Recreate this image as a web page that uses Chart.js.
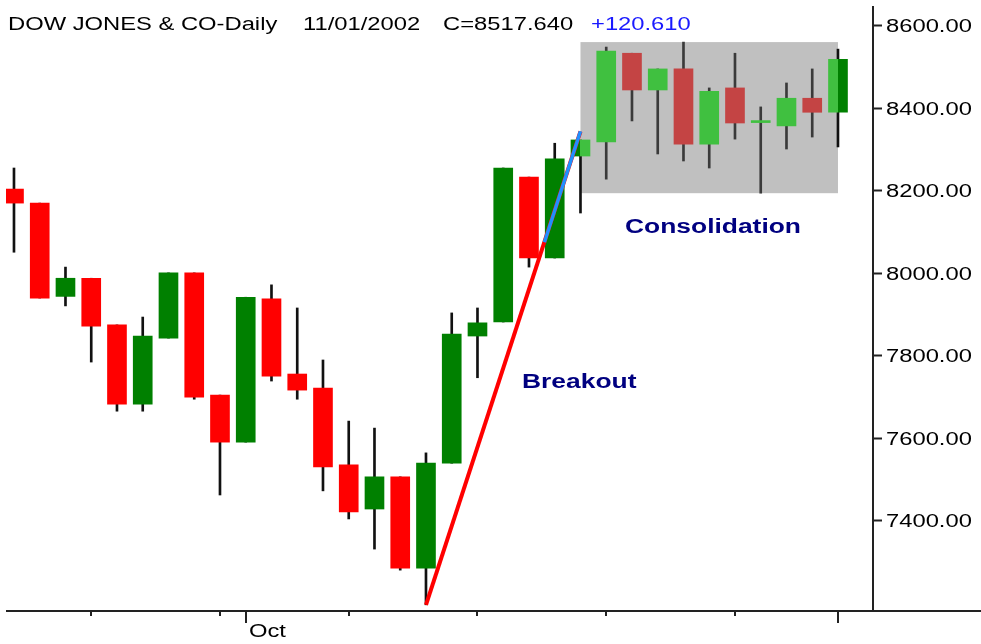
<!DOCTYPE html>
<html>
<head>
<meta charset="utf-8">
<script src="https://cdn.jsdelivr.net/npm/chart.js@4.4.1/dist/chart.umd.min.js"></script>
<style>
  html, body { margin: 0; padding: 0; background: #fff; }
  canvas { display: block; }
</style>
</head>
<body>
<canvas id="myChart" width="981" height="644"></canvas>
<script>
// Dow Jones daily bars, 18 Sep 2002 .. 1 Nov 2002
const dates = ['09/18','09/19','09/20','09/23','09/24','09/25','09/26','09/27','09/30',
  '10/01','10/02','10/03','10/04','10/07','10/08','10/09','10/10','10/11','10/14','10/15',
  '10/16','10/17','10/18','10/21','10/22','10/23','10/24','10/25','10/28','10/29','10/30',
  '10/31','11/01']
const opens  = [8204, 8170, 7944, 7988, 7875, 7683, 7843, 8001, 7705, 7591, 7938, 7756, 7722,
  7536, 7429, 7507, 7286, 7540, 7848, 7882, 8233, 8037, 8284, 8318, 8533, 8444, 8495, 8313,
  8449, 8365, 8357, 8424, 8390]
const highs  = [8255, 8170, 8015, 7988, 7875, 7894, 8001, 8001, 7705, 7942, 7972, 7916, 7790,
  7642, 7625, 7507, 7565, 7904, 7916, 8255, 8233, 8315, 8323, 8548, 8533, 8495, 8560, 8449,
  8533, 8403, 8461, 8495, 8543]
const lows   = [8051, 7940, 7921, 7785, 7666, 7666, 7843, 7695, 7463, 7591, 7739, 7695, 7473,
  7405, 7332, 7281, 7197, 7540, 7747, 7882, 8015, 8037, 8146, 8228, 8369, 8289, 8272, 8255,
  8325, 8194, 8301, 8330, 8306]
const closes = [8170, 7940, 7988, 7872, 7683, 7848, 8001, 7700, 7591, 7942, 7751, 7717, 7531,
  7422, 7507, 7286, 7540, 7853, 7880, 8255, 8037, 8277, 8323, 8538, 8444, 8495, 8313, 8441,
  8364, 8367, 8424, 8390, 8518]

const yTicks = [7400, 7600, 7800, 8000, 8200, 8400, 8600]
const xTicks = [3, 8, 9, 13, 18, 23, 28, 32]
const xTickLabels = ['', '', 'Oct', '', '', '', '', '']
const monthStarts = [9, 32]

// trend lines drawn on the chart
const breakoutLine = [{x: 16, y: 7197}, {x: 22, y: 8344}]
const blueLine = [{x: 20.6, y: 8075}, {x: 22, y: 8344}]

// consolidation box: from bar 22 to bar 32, range of the bars inside
const boxFrom = 22
const boxTo = 32
const boxLow = Math.min(...lows.slice(23, 32))
const boxHigh = Math.max(...highs.slice(23, 32))

const titleParts = ['DOW JONES & CO-Daily', '11/01/2002', 'C=8517.640', '+120.610']

const bodyWidth = 19
const sx = 1.32   // the old chart fonts are wide

const idx = dates.map((d, i) => i)

function stretchText(ctx, text, x, y, font, color) {
  ctx.save()
  ctx.font = font
  ctx.fillStyle = color
  ctx.textAlign = 'left'
  ctx.textBaseline = 'alphabetic'
  ctx.translate(x, y)
  ctx.scale(sx, 1)
  ctx.fillText(text, 0, 0)
  ctx.restore()
}

bodyColor = (c) => {
  const i = c.dataIndex
  if (i === undefined) return '#008000'
  const up = closes[i] >= opens[i]
  const outer = up ? '#008000' : '#ff0000'
  const inner = up ? '#40c040' : '#c44444'
  const xs = c.chart.scales.x
  if (!xs) return outer
  const cx = xs.getPixelForValue(i)
  const bl = xs.getPixelForValue(boxFrom), br = xs.getPixelForValue(boxTo)
  if (!isFinite(cx) || !isFinite(bl) || !isFinite(br)) {
    return (i > boxFrom && i < boxTo) ? inner : outer
  }
  const l = cx - bodyWidth / 2, r = cx + bodyWidth / 2
  if (r <= bl || l >= br) return outer
  if (l >= bl && r <= br) return inner
  // bar half in the grey box: split colour at the box edge
  const g = c.chart.ctx.createLinearGradient(l, 0, r, 0)
  if (bl > l) {
    const a = (bl - l) / (r - l)
    g.addColorStop(0, outer); g.addColorStop(a, outer)
    g.addColorStop(a, inner); g.addColorStop(1, inner)
  } else {
    const b = (br - l) / (r - l)
    g.addColorStop(0, inner); g.addColorStop(b, inner)
    g.addColorStop(b, outer); g.addColorStop(1, outer)
  }
  return g
}

wickColor = (c) => {
  const i = c.dataIndex
  return (i > boxFrom && i < boxTo) ? '#3a3a3a' : '#111111'
}

const decor = {
  id: 'decor',
  beforeDatasetsDraw(chart) {
    const {ctx, scales: {x, y}} = chart
    const l = x.getPixelForValue(boxFrom), r = x.getPixelForValue(boxTo)
    const t = y.getPixelForValue(boxHigh), b = y.getPixelForValue(boxLow)
    ctx.save()
    ctx.fillStyle = '#c0c0c0'
    ctx.fillRect(l, t, r - l, b - t)
    ctx.restore()
  },
  afterDraw(chart) {
    const {ctx, chartArea, scales: {x, y}} = chart
    // x axis line runs under the price labels too
    ctx.save()
    ctx.strokeStyle = '#222'
    ctx.lineWidth = 2
    ctx.beginPath()
    ctx.moveTo(chartArea.left, chartArea.bottom)
    ctx.lineTo(chart.width, chartArea.bottom)
    ctx.stroke()
    xTicks.forEach((t, k) => {
      const px = Math.round(x.getPixelForValue(t))
      const len = monthStarts.includes(t) ? 12 : 5
      ctx.beginPath()
      ctx.moveTo(px, chartArea.bottom)
      ctx.lineTo(px, chartArea.bottom + len)
      ctx.stroke()
      if (xTickLabels[k]) stretchText(ctx, xTickLabels[k], px + 3, chartArea.bottom + 26, '18px "Liberation Sans"', '#000')
    })
    ctx.restore()

    // price labels
    y.ticks.forEach(t => {
      const py = y.getPixelForValue(t.value)
      stretchText(ctx, t.value.toFixed(2), chartArea.right + 13, py + 6.5, '18px "Liberation Sans"', '#000')
    })

    // title
    const tf = '18px "Liberation Sans"'
    stretchText(ctx, titleParts[0], 8, 30, tf, '#000')
    stretchText(ctx, titleParts[1], 303, 30, tf, '#000')
    stretchText(ctx, titleParts[2], 443, 30, tf, '#000')
    stretchText(ctx, titleParts[3], 591, 30, tf, '#1a1aff')

    // notes
    const nf = 'bold 20px "Liberation Sans"'
    stretchText(ctx, 'Consolidation', 625, 233, nf, '#000080')
    stretchText(ctx, 'Breakout', 522, 388, nf, '#000080')
  }
}

new Chart('myChart', {
  type: 'bar',
  data: {
    datasets: [
      {
        label: 'High-Low',
        data: idx.map(i => ({x: i, y: [lows[i], highs[i]]})),
        barThickness: 2,
        backgroundColor: wickColor,
        borderWidth: 0,
        grouped: false,
        order: 4
      },
      {
        label: 'Open-Close',
        data: idx.map(i => ({x: i, y: [opens[i], closes[i]]})),
        barThickness: bodyWidth,
        minBarLength: 2,
        backgroundColor: bodyColor,
        borderWidth: 0,
        grouped: false,
        order: 3
      },
      {
        type: 'line',
        label: 'Breakout',
        data: breakoutLine,
        borderColor: '#ff0000',
        borderWidth: 4,
        pointRadius: 0,
        order: 2
      },
      {
        type: 'line',
        label: 'Trend',
        data: blueLine,
        borderColor: '#2090ff',
        borderWidth: 3.5,
        pointRadius: 0,
        order: 1
      }
    ]
  },
  options: {
    responsive: false,
    animation: false,
    devicePixelRatio: 1,
    layout: {padding: {left: 6, top: 7, right: 0, bottom: 33}},
    plugins: {legend: {display: false}, tooltip: {enabled: false}},
    scales: {
      x: {type: 'linear', display: false, offset: false, min: -0.31, max: 33.36},
      y: {
        type: 'linear',
        position: 'right',
        min: 7182,
        max: 8645,
        afterBuildTicks: s => { s.ticks = yTicks.map(v => ({value: v})) },
        afterFit: s => { s.width = 108 },
        grid: {drawOnChartArea: false, drawTicks: true, tickLength: 9, tickColor: '#222', tickWidth: 2},
        border: {display: true, color: '#222', width: 2},
        ticks: {display: false}
      }
    }
  },
  plugins: [decor]
})
</script>
</body>
</html>
